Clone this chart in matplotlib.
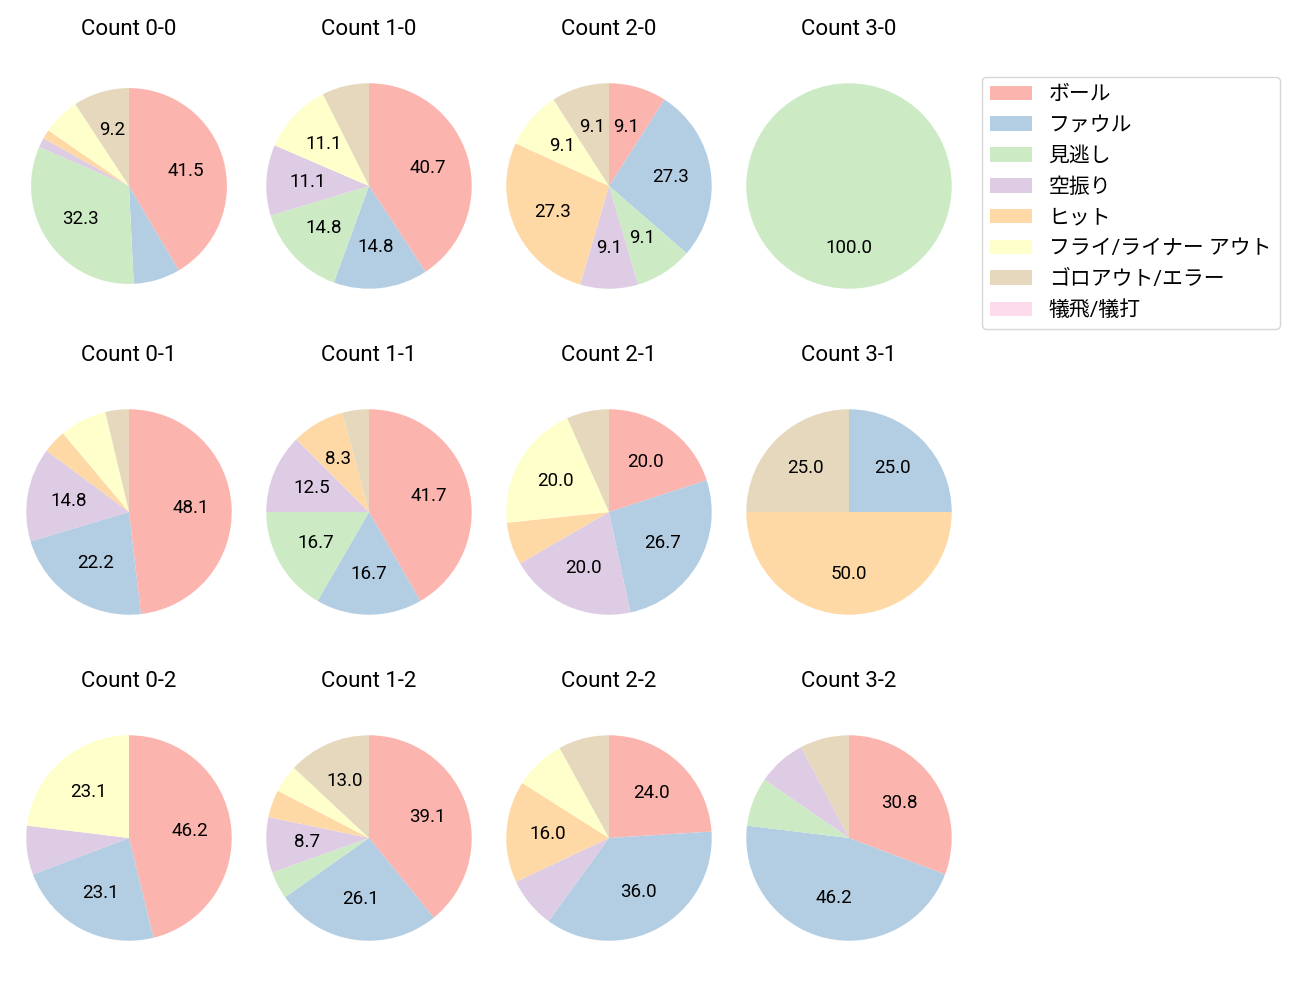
import matplotlib.pyplot as plt
from matplotlib.patches import Patch

plt.rcParams['font.family'] = ['Roboto', 'Noto Sans CJK JP', 'DejaVu Sans']

# 結果カテゴリ
categories = ["ボール", "ファウル", "見逃し", "空振り", "ヒット",
              "フライ/ライナー アウト", "ゴロアウト/エラー", "犠飛/犠打"]

# カウント別の件数 (categories の順)
counts = {
    "Count 0-0": [27, 5, 21, 1, 1, 4, 6, 0],
    "Count 1-0": [11, 4, 4, 3, 0, 3, 2, 0],
    "Count 2-0": [1, 3, 1, 1, 3, 1, 1, 0],
    "Count 3-0": [0, 0, 1, 0, 0, 0, 0, 0],
    "Count 0-1": [13, 6, 0, 4, 1, 2, 1, 0],
    "Count 1-1": [10, 4, 4, 3, 2, 0, 1, 0],
    "Count 2-1": [3, 4, 0, 3, 1, 3, 1, 0],
    "Count 3-1": [0, 1, 0, 0, 2, 0, 1, 0],
    "Count 0-2": [6, 3, 0, 1, 0, 3, 0, 0],
    "Count 1-2": [9, 6, 1, 2, 1, 1, 3, 0],
    "Count 2-2": [6, 9, 0, 2, 4, 2, 2, 0],
    "Count 3-2": [4, 6, 1, 1, 0, 0, 1, 0],
}

colors = plt.get_cmap("Pastel1").colors[:len(categories)]

W, H = 1300, 1000
fig = plt.figure(figsize=(13, 10), dpi=100)

col_x = [129, 369, 609, 849]
row_y = [186, 512, 838]
box = 240

for i, (title, vals) in enumerate(counts.items()):
    r, c = divmod(i, 4)
    cx, cy = col_x[c], row_y[r]
    ax = fig.add_axes([(cx - box / 2) / W, 1 - (cy + box / 2) / H, box / W, box / H])
    nz = [(v, col) for v, col in zip(vals, colors) if v > 0]
    ax.pie([v for v, _ in nz], colors=[col for _, col in nz],
           startangle=90, counterclock=False, radius=1.02 if i == 0 else 1.07,
           autopct=lambda p: f"{p:.1f}" if p > 8.1 else "",
           textprops={"fontsize": 13.5})
    ax.set_xlim(-1.25, 1.25)
    ax.set_ylim(-1.25, 1.25)
    ax.set_aspect("equal")
    ax.set_title(title, fontsize=16, pad=22)

handles = [Patch(facecolor=col, label=lab) for col, lab in zip(colors, categories)]
fig.legend(handles=handles, loc="upper left", borderaxespad=0, labelspacing=0.56,
           bbox_to_anchor=(982 / W, 1 - 77 / H), fontsize=15)

fig.savefig("out.png", dpi=100)
